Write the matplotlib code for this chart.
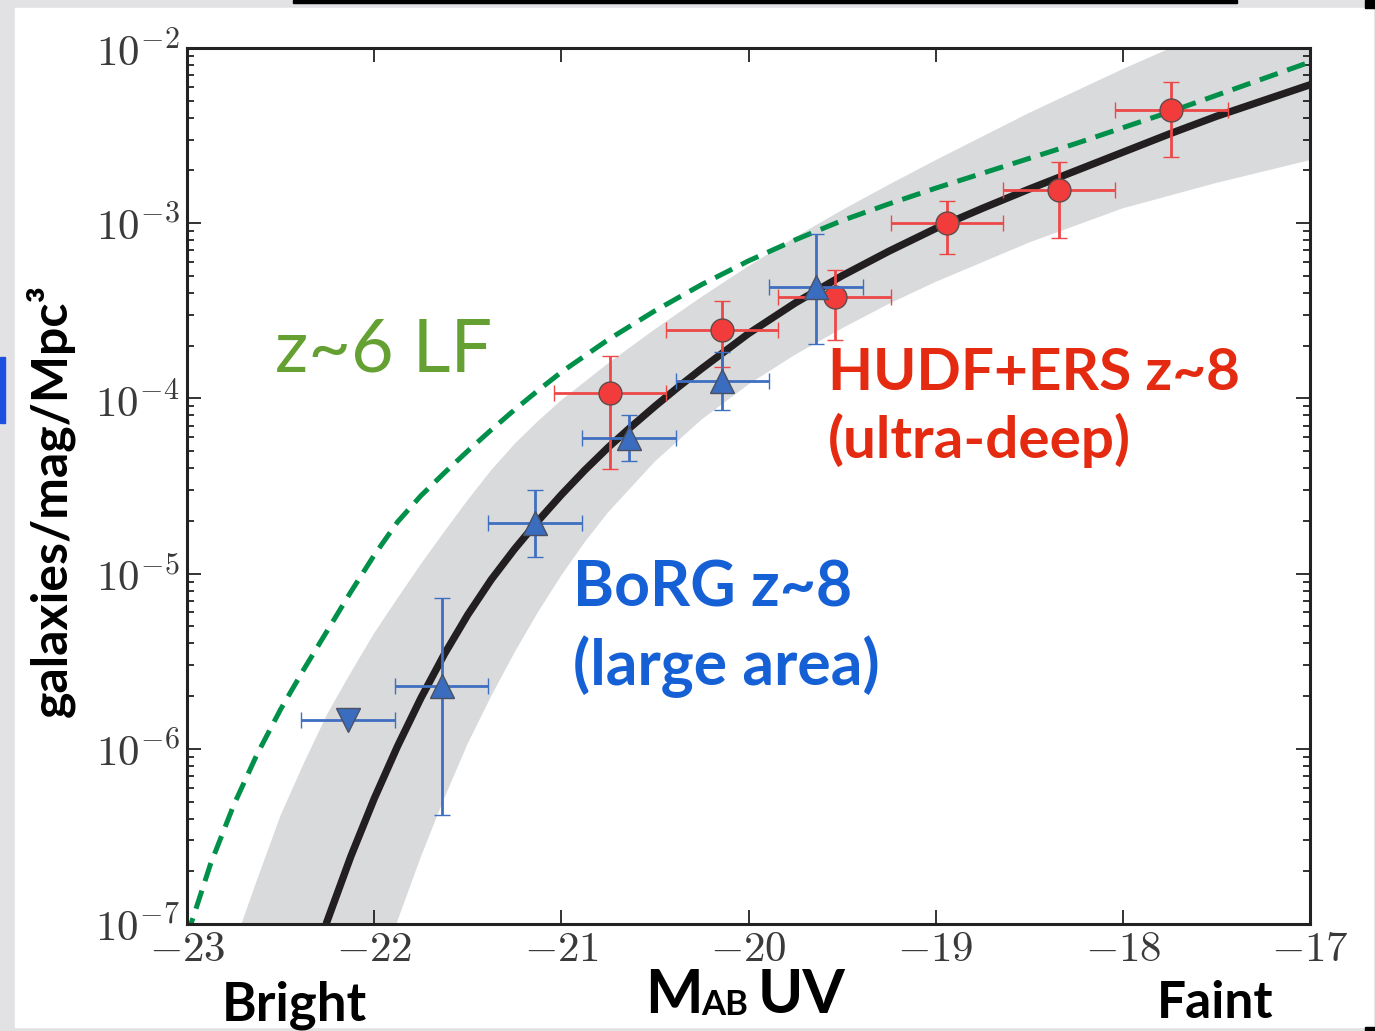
"""
z~8 UV luminosity function slide figure
Best-fit LF with uncertainty band, HUDF+ERS and BoRG points, z~6 LF for reference.
"""

import numpy as np
import matplotlib.pyplot as plt
from matplotlib.patches import Rectangle
from matplotlib import ticker

plt.rcParams['mathtext.fontset'] = 'cm'
plt.rcParams['font.family'] = ['Lato', 'DejaVu Sans']

# best-fit z~8 LF (black): M_UV, log10(phi)
fit_mag = [-22.25, -22.125, -22.0, -21.875, -21.75, -21.625, -21.5, -21.375,
           -21.25, -21.125, -21.0, -20.875, -20.75, -20.625, -20.5, -20.375,
           -20.25, -20.0, -19.75, -19.5, -19.25, -19.0, -18.75, -18.5, -18.25,
           -18.0, -17.75, -17.5, -17.25, -17.0]
fit_logphi = [-6.98, -6.615, -6.285, -5.985, -5.71, -5.46, -5.235, -5.035,
              -4.86, -4.70, -4.55, -4.41, -4.28, -4.16, -4.045, -3.935,
              -3.83, -3.63, -3.455, -3.30, -3.16, -3.03, -2.915, -2.805, -2.70,
              -2.595, -2.49, -2.39, -2.30, -2.21]

# z~6 LF (green dashed)
z6_mag = [-23.0, -22.875, -22.75, -22.625, -22.5, -22.375, -22.25, -22.125,
          -22.0, -21.875, -21.75, -21.625, -21.5, -21.375, -21.25, -21.125,
          -21.0, -20.75, -20.5, -20.25, -20.0, -19.75, -19.5, -19.25, -19.0,
          -18.75, -18.5, -18.25, -18.0, -17.75, -17.5, -17.25, -17.0]
z6_logphi = [-7.07, -6.66, -6.32, -6.03, -5.775, -5.545, -5.325, -5.105,
             -4.895, -4.705, -4.555, -4.425, -4.30, -4.18, -4.065, -3.955,
             -3.85, -3.665, -3.50, -3.35, -3.215, -3.095, -2.985, -2.89, -2.80,
             -2.715, -2.63, -2.545, -2.455, -2.365, -2.27, -2.175, -2.08]

# grey uncertainty band, upper and lower edges
band_hi_mag = [-22.75, -22.706, -22.625, -22.5, -22.375, -22.25, -22.125, -22.0,
               -21.875, -21.75, -21.625, -21.5, -21.375, -21.25, -21.125, -21.0,
               -20.75, -20.5, -20.25, -20.0, -19.75, -19.5, -19.25, -19.0,
               -18.5, -18.0, -17.68, -17.0]
band_hi_logphi = [-7.2, -6.99, -6.745, -6.38, -6.08, -5.80, -5.565, -5.34,
                  -5.14, -4.945, -4.76, -4.58, -4.41, -4.26, -4.13, -4.01,
                  -3.80, -3.605, -3.42, -3.245, -3.08, -2.925, -2.78, -2.64,
                  -2.37, -2.12, -1.97, -1.66]
band_lo_mag = [-21.95, -21.878, -21.75, -21.625, -21.5, -21.375, -21.25, -21.125,
               -21.0, -20.875, -20.75, -20.5, -20.25, -20.0, -19.75, -19.5,
               -19.25, -19.0, -18.5, -18.0, -17.5, -17.0]
band_lo_logphi = [-7.2, -6.99, -6.615, -6.28, -5.97, -5.70, -5.45, -5.22,
                  -5.01, -4.82, -4.65, -4.36, -4.12, -3.92, -3.75, -3.60,
                  -3.46, -3.335, -3.11, -2.915, -2.77, -2.64]

# HUDF+ERS z~8 (red circles)
hudf_mag = [-20.74, -20.14, -19.54, -18.94, -18.34, -17.74]
hudf_phi = [1.07e-4, 2.45e-4, 3.8e-4, 1.0e-3, 1.55e-3, 4.43e-3]
hudf_phi_hi = [1.75e-4, 3.6e-4, 5.4e-4, 1.34e-3, 2.23e-3, 6.4e-3]
hudf_phi_lo = [3.95e-5, 1.51e-4, 2.15e-4, 6.67e-4, 8.2e-4, 2.39e-3]
hudf_dmag = 0.3

# BoRG z~8 (blue triangles)
borg_mag = [-21.64, -21.14, -20.64, -20.14, -19.64]
borg_phi = [2.28e-6, 1.95e-5, 5.94e-5, 1.26e-4, 4.32e-4]
borg_phi_hi = [7.3e-6, 3.0e-5, 8.0e-5, 1.84e-4, 8.7e-4]
borg_phi_lo = [4.2e-7, 1.24e-5, 4.4e-5, 8.6e-5, 2.04e-4]
borg_dmag = 0.25
borg_lim_mag = [-22.14]
borg_lim_phi = [1.46e-6]

W, H = 1375, 1031
fig = plt.figure(figsize=(W / 100, H / 100), dpi=100)
fig.patch.set_facecolor('#e2e2e5')


def px_rect(x0, y0, x1, y1, color):
    """Rectangle given in pixel coords (origin top-left), behind the axes."""
    fig.patches.append(Rectangle((x0 / W, 1 - y1 / H), (x1 - x0) / W, (y1 - y0) / H,
                                 transform=fig.transFigure, color=color, zorder=-10))


# slide decorations
px_rect(15, 8, 1373, 1027, 'white')
px_rect(293, 0, 1237, 3, 'black')
px_rect(1365, 0, 1375, 8, 'black')
px_rect(1365, 1027, 1375, 1031, 'black')
px_rect(0, 357, 5, 423, '#1d4fe0')

ax = fig.add_axes([187 / W, 1 - 924 / H, (1310 - 187) / W, (924 - 48) / H])
ax.set_facecolor('white')

# uncertainty band
poly_mag = np.r_[band_hi_mag, band_lo_mag[::-1]]
poly_phi = 10 ** np.r_[band_hi_logphi, band_lo_logphi[::-1]]
ax.fill(poly_mag, poly_phi, color='#d9dadc', lw=0, zorder=1)

ax.plot(z6_mag, 10 ** np.array(z6_logphi), color='#00904a', lw=3.6,
        dashes=(3.8, 2.0), zorder=2)
ax.plot(fit_mag, 10 ** np.array(fit_logphi), color='#231f20', lw=5.3,
        solid_joinstyle='round', zorder=3)

# data points
hudf_phi = np.array(hudf_phi)
ax.errorbar(hudf_mag, hudf_phi,
            yerr=[hudf_phi - np.array(hudf_phi_lo), np.array(hudf_phi_hi) - hudf_phi],
            xerr=hudf_dmag, fmt='o', ms=16.5, mfc='#f23c3c', mec='#5e4b4b', mew=1,
            ecolor='#ee4747', elinewidth=2, capsize=6, capthick=2, zorder=5)

borg_phi = np.array(borg_phi)
ax.errorbar(borg_mag, borg_phi,
            yerr=[borg_phi - np.array(borg_phi_lo), np.array(borg_phi_hi) - borg_phi],
            xerr=borg_dmag, fmt='^', ms=17, mfc='#3a6cbf', mec='#4a5060', mew=1,
            ecolor='#3f6fc0', elinewidth=2, capsize=6, capthick=2, zorder=6)
ax.errorbar(borg_lim_mag, borg_lim_phi, xerr=borg_dmag, fmt='v', ms=17,
            mfc='#3a6cbf', mec='#4a5060', mew=1, ecolor='#3f6fc0',
            elinewidth=2, capsize=6, capthick=2, zorder=6)

# axes
ax.set_yscale('log')
ax.set_xlim(-23, -17)
ax.set_ylim(1e-7, 1e-2)
ax.xaxis.set_major_locator(ticker.MultipleLocator(1))
ax.xaxis.set_major_formatter(ticker.FuncFormatter(lambda v, p: r'$%d$' % round(v)))
ax.yaxis.set_major_locator(ticker.LogLocator(base=10, numticks=10))
ax.yaxis.set_minor_locator(ticker.LogLocator(base=10, subs=np.arange(2, 10), numticks=20))
ax.yaxis.set_minor_formatter(ticker.NullFormatter())
ax.yaxis.set_major_formatter(
    ticker.FuncFormatter(lambda v, p: r'$10^{%d}$' % round(np.log10(v))))
ax.tick_params(which='both', direction='in', top=True, right=True,
               color='#222222', width=1.3, labelsize=31, labelcolor='#3a3a3a')
ax.tick_params(which='major', length=10)
ax.tick_params(axis='x', which='major', pad=4)
ax.tick_params(axis='y', which='major', pad=5)
ax.tick_params(which='minor', length=5)
for s in ax.spines.values():
    s.set_linewidth(2.2)
    s.set_color('#222222')

# in-plot labels
ax.text(-22.53, 10 ** -3.849, 'z~6 LF', color='#64a032', fontsize=53, zorder=7)
ax.text(-19.575, 10 ** -3.952, 'HUDF+ERS z~8', color='#e42a10', fontsize=42,
        fontweight='bold', zorder=7)
ax.text(-19.575, 10 ** -4.34, '(ultra-deep)', color='#e42a10', fontsize=42,
        fontweight='bold', zorder=7)
ax.text(-20.938, 10 ** -5.19, 'BoRG z~8', color='#1660d6', fontsize=45,
        fontweight='bold', zorder=7)
ax.text(-20.938, 10 ** -5.636, '(large area)', color='#1660d6', fontsize=45,
        fontweight='bold', zorder=7)

# outer labels
fig.text(50 / W, 1 - 500 / H, 'galaxies/mag/Mpc³', rotation=90, ha='center',
         va='center', fontsize=36, fontweight='bold', color='black')
fig.text(222 / W, 1 - 1020 / H, 'Bright', fontsize=38, fontweight='bold')
fig.text(1157 / W, 1 - 1018 / H, 'Faint', fontsize=37, fontweight='bold')
fig.text(645 / W, 1 - 1013 / H, 'M', fontsize=44, fontweight='bold', va='baseline')
fig.text(701 / W, 1 - 1015 / H, 'AB', fontsize=25, fontweight='bold', va='baseline')
fig.text(758 / W, 1 - 1013 / H, 'UV', fontsize=44, fontweight='bold', va='baseline')

fig.savefig('out.png', dpi=100, facecolor=fig.get_facecolor())
